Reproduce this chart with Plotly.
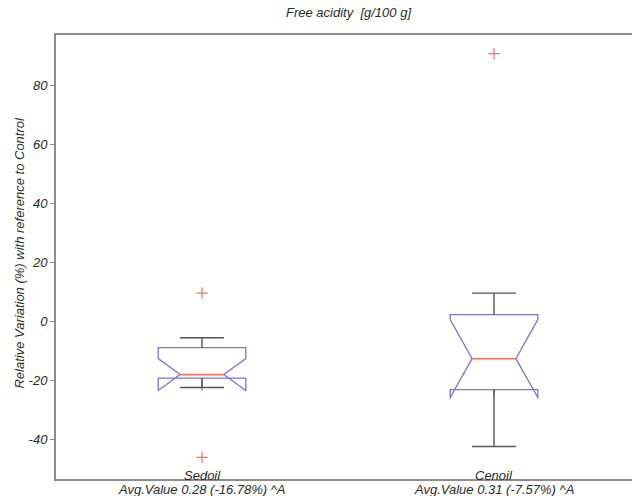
import plotly.graph_objects as go

# ---- data ----
groups = ["Sedoil", "Cenoil"]
avg_labels = ["Avg.Value 0.28 (-16.78%) ^A", "Avg.Value 0.31 (-7.57%) ^A"]
positions = [1, 2]
q1 = [-19.2, -23.1]
median = [-18.0, -12.6]
q3 = [-8.9, 2.3]
lower_whisker = [-22.4, -42.4]
upper_whisker = [-5.5, 9.6]
notch_span = [5.4, 13.2]
outlier_x = [1, 1, 2]
outlier_y = [9.6, -46.1, 90.8]

title_text = "Free acidity &nbsp;[g/100 g]"
ytitle_text = "Relative Variation (%) with reference to Control"
y_ticks = [-40, -20, 0, 20, 40, 60, 80]
y_tick_text = ["-40", "-20", "0", "20", "40", "60", "80"]

BOX_W = 0.3
NOTCH_W = 0.25
CAP_HALF = BOX_W / 4
BOX_COLOR = "#8070d8"
MED_COLOR = "#ee7350"
WHISK_COLOR = "#555555"
AXIS_COLOR = "#8c8c8c"
TEXT_COLOR = "#2a2a2a"
FONT = "Liberation Sans"

fig = go.Figure()

fig.add_trace(go.Box(
    x=positions, q1=q1, median=median, q3=q3,
    lowerfence=q1, upperfence=q3, notchspan=notch_span,
    notched=True, notchwidth=NOTCH_W, width=BOX_W, whiskerwidth=0,
    boxpoints=False, fillcolor="rgba(0,0,0,0)",
    line=dict(color=BOX_COLOR, width=1.3),
    hoverinfo="skip", showlegend=False,
))

# whiskers
wx, wy = [], []
for p, a, b, lw, uw in zip(positions, q1, q3, lower_whisker, upper_whisker):
    wx += [p, p, None, p - CAP_HALF, p + CAP_HALF, None,
           p, p, None, p - CAP_HALF, p + CAP_HALF, None]
    wy += [b, uw, None, uw, uw, None,
           a, lw, None, lw, lw, None]
fig.add_trace(go.Scatter(x=wx, y=wy, mode="lines",
                         line=dict(color=WHISK_COLOR, width=1.4),
                         hoverinfo="skip", showlegend=False))

# medians
mx, my = [], []
half_n = BOX_W / 2 * (1 - 2 * NOTCH_W)
for p, m in zip(positions, median):
    mx += [p - half_n, p + half_n, None]
    my += [m, m, None]
fig.add_trace(go.Scatter(x=mx, y=my, mode="lines",
                         line=dict(color=MED_COLOR, width=1.4),
                         hoverinfo="skip", showlegend=False))

# outliers
fig.add_trace(go.Scatter(x=outlier_x, y=outlier_y, mode="markers",
                         marker=dict(symbol="cross-thin", size=8,
                                     line=dict(color=MED_COLOR, width=1.2)),
                         hoverinfo="skip", showlegend=False))

txt_font = dict(family=FONT, size=13, color=TEXT_COLOR, style="italic")

annotations = []
for p, g, a in zip(positions, groups, avg_labels):
    annotations.append(dict(x=p, y=0, xref="x", yref="paper", text=g,
                            showarrow=False, yanchor="middle", yshift=4,
                            font=txt_font))
    annotations.append(dict(x=p, y=0, xref="x", yref="paper", text=a,
                            showarrow=False, yanchor="middle", yshift=-10,
                            font=txt_font))
annotations.append(dict(x=0.507, y=1.0, xref="paper", yref="paper",
                        text=title_text, showarrow=False, yanchor="middle",
                        yshift=23, font=txt_font))
annotations.append(dict(x=-0.0625, y=0.51, xref="paper", yref="paper",
                        text=ytitle_text, showarrow=False, textangle=-90,
                        xanchor="center", yanchor="middle", font=txt_font))

fig.update_layout(
    width=632, height=496,
    margin=dict(l=56, r=0, t=35, b=17),
    paper_bgcolor="white", plot_bgcolor="white",
    annotations=annotations,
    xaxis=dict(range=[0.5, 2.4726], showgrid=False, zeroline=False,
               showticklabels=False, ticks="", showline=True, mirror=True,
               linecolor=AXIS_COLOR, linewidth=2),
    yaxis=dict(range=[-53.4, 97.1], showgrid=False, zeroline=False,
               tickvals=y_ticks, ticktext=y_tick_text,
               ticks="outside", ticklen=4,
               tickcolor=AXIS_COLOR, tickwidth=1.2,
               showline=True, linecolor=AXIS_COLOR, linewidth=2,
               tickfont=txt_font),
)

fig.write_html("out.html",
               config={"displayModeBar": False},
               post_script="document.body.style.margin='0px';")
